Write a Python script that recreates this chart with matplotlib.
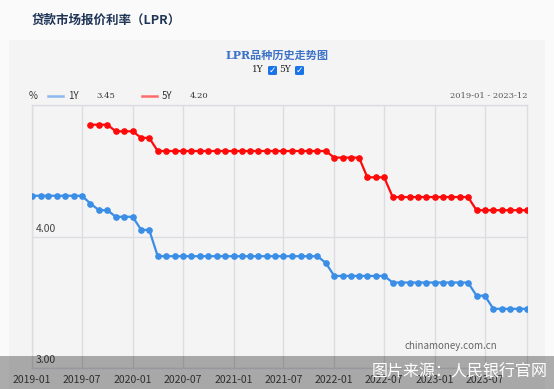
import pandas as pd
import matplotlib.pyplot as plt
import matplotlib.dates as mdates
from matplotlib.patches import Rectangle, FancyBboxPatch

plt.rcParams['font.family'] = ['Noto Sans CJK SC', 'DejaVu Sans']

# ── Data ──────────────────────────────────────────────────────────────────────
months_1y = pd.date_range("2019-01-01", "2023-12-01", freq="MS")
lpr_1y = ([4.31] * 7 + [4.25] + [4.20] * 2 + [4.15] * 3 + [4.05] * 2
          + [3.85] * 20 + [3.80] + [3.70] * 7 + [3.65] * 10 + [3.55] * 2
          + [3.45] * 5)

months_5y = pd.date_range("2019-08-01", "2023-12-01", freq="MS")
lpr_5y = ([4.85] * 3 + [4.80] * 3 + [4.75] * 2 + [4.65] * 21 + [4.60] * 4
          + [4.45] * 3 + [4.30] * 10 + [4.20] * 7)

y_ticks = [3.00, 4.00, 5.00]
y_labels = ["3.00", "4.00"]
x_ticks = pd.date_range("2019-01-01", "2023-07-01", freq="6MS")

BLUE = "#3a8ee6"
RED = "#ff0a0a"
GRID = "#dcdde4"
BG = "#f4f4f4"

W, H = 554, 389
fig = plt.figure(figsize=(W / 100, H / 100), dpi=100, facecolor="#fafafa")

# grey panel behind the chart
fig.patches.append(Rectangle((9 / W, 0), (545 - 9) / W, (H - 40) / H,
                             transform=fig.transFigure, facecolor=BG,
                             edgecolor="none", zorder=-5))

fig.text(32 / W, 1 - 20 / H, "贷款市场报价利率（LPR）", fontsize=9,
         fontweight="bold", color="#1f3556", va="center", ha="left")

fig.text(277 / W, 1 - 55 / H, "LPR品种历史走势图", fontsize=8,
         fontweight="bold", color="#3d72c9", va="center", ha="center",
         family=["DejaVu Serif", "Noto Sans CJK SC"])

# series toggles
for lab, x0 in [("1Y", 264), ("5Y", 291)]:
    fig.text(x0 / W, 1 - 70 / H, lab, fontsize=6.5, color="#222",
             family="DejaVu Serif", ha="right", va="center")
    fig.patches.append(FancyBboxPatch(((x0 + 4) / W, 1 - 75 / H), 9 / W, 9 / H,
                                      boxstyle="round,pad=0,rounding_size=0.003",
                                      transform=fig.transFigure,
                                      facecolor="#1a73e8", edgecolor="none"))
    fig.text((x0 + 8.5) / W, 1 - 70.5 / H, "✓", fontsize=6.5, color="white",
             fontweight="bold", ha="center", va="center", family="DejaVu Sans")

# legend row
ly = 1 - 96 / H
fig.text(29 / W, ly, "%", fontsize=7, color="#333", va="center")
fig.add_artist(plt.Line2D([48 / W, 63 / W], [ly, ly], color="#8db8ef", lw=1.8))
fig.text(68 / W, ly, "1Y", fontsize=7, color="#333", va="center")
fig.text(96 / W, ly, f"{lpr_1y[-1]:.2f}", fontsize=6, color="#333",
         va="center", family="DejaVu Serif")
fig.add_artist(plt.Line2D([142 / W, 157 / W], [ly, ly], color="#ff6b6b", lw=1.8))
fig.text(162 / W, ly, "5Y", fontsize=7, color="#333", va="center")
fig.text(190 / W, ly, f"{lpr_5y[-1]:.2f}", fontsize=6, color="#333",
         va="center", family="DejaVu Serif")
fig.text(527 / W, ly, "2019-01 - 2023-12", fontsize=6, color="#555",
         va="center", ha="right", family="DejaVu Serif")

# ── Plot ──────────────────────────────────────────────────────────────────────
ax = fig.add_axes([32 / W, (H - 368) / H, (527 - 32) / W, (368 - 105) / H])
ax.set_facecolor(BG)
ax.plot(months_1y, lpr_1y, color=BLUE, lw=1.6, marker="o", ms=3.8, zorder=3)
ax.plot(months_5y, lpr_5y, color=RED, lw=1.6, marker="o", ms=3.8, zorder=3)

ax.set_xlim(months_1y[0], months_1y[-1])
ax.set_ylim(3, 5)
ax.set_yticks(y_ticks)
ax.set_yticklabels([])
ax.set_xticks(x_ticks)
ax.xaxis.set_major_formatter(mdates.DateFormatter("%Y-%m"))
ax.tick_params(axis="x", length=0, pad=5, labelsize=7.5, labelcolor="#444")
ax.tick_params(axis="y", length=0)
ax.grid(color=GRID, lw=1)
for s in ax.spines.values():
    s.set_color(GRID)
    s.set_linewidth(1)

for v, lab in zip(y_ticks, y_labels):
    ax.text(0.007, v + 0.02, lab, transform=ax.get_yaxis_transform(),
            fontsize=7.5, color="#444", va="bottom", ha="left")

ax.text(0.752, 0.085, "chinamoney.com.cn", transform=ax.transAxes,
        fontsize=7, color="#666", ha="left", va="center")

# translucent source bar across the bottom
fig.patches.append(Rectangle((0, 0), 1, 33 / H, transform=fig.transFigure,
                             facecolor="black", alpha=0.31, edgecolor="none",
                             zorder=10))
fig.text(548 / W, 1 - 372 / H, "图片来源：人民银行官网", fontsize=11.5,
         color="white", ha="right", va="center", zorder=11)

fig.savefig("out.png", dpi=100, facecolor=fig.get_facecolor())
